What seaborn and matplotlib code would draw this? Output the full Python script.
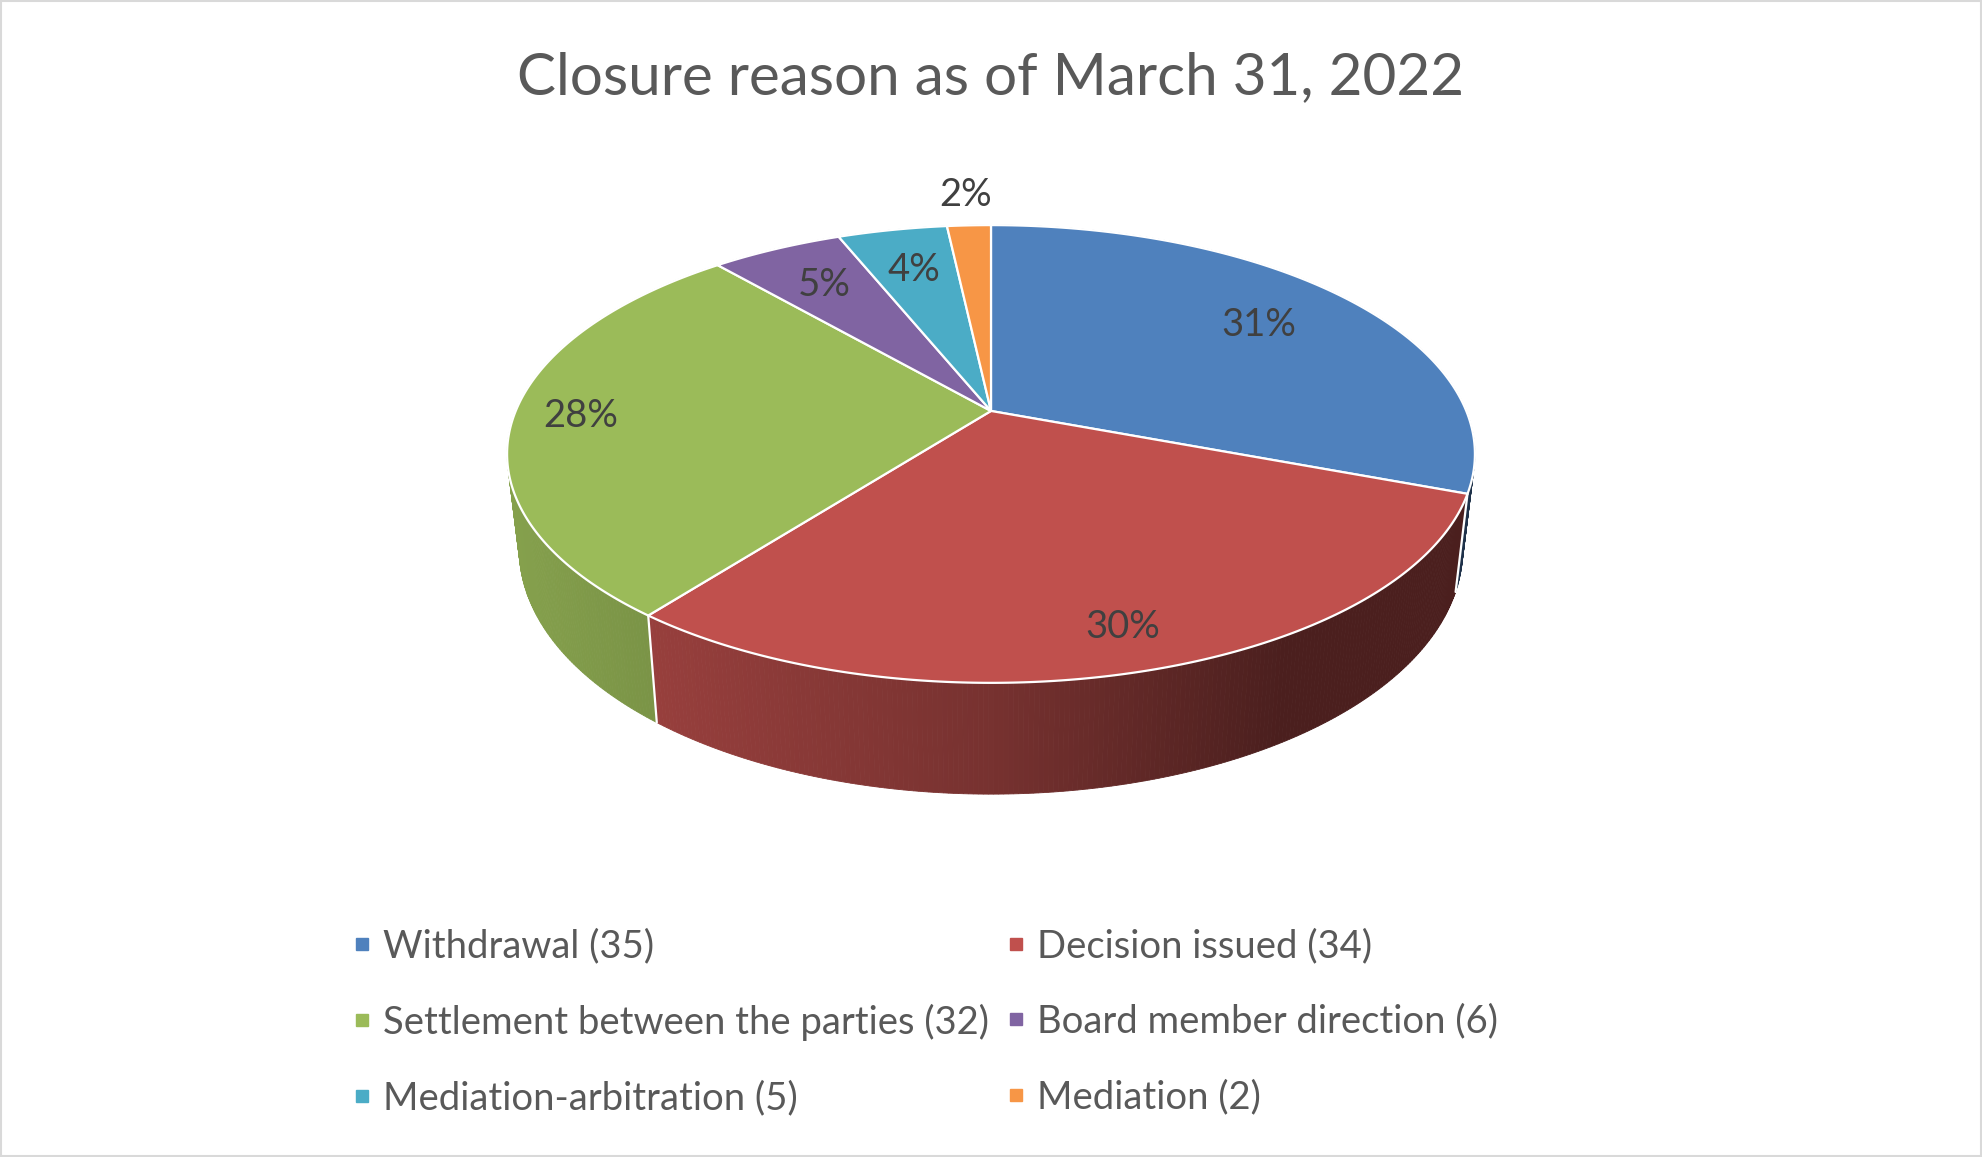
import numpy as np
import matplotlib
matplotlib.use("Agg")
import matplotlib.pyplot as plt
from matplotlib.patches import Polygon, Rectangle
from matplotlib.lines import Line2D
import seaborn as sns

# data
categories = ["Withdrawal", "Decision issued", "Settlement between the parties",
              "Board member direction", "Mediation-arbitration", "Mediation"]
counts = [35, 34, 32, 6, 5, 2]
pct_labels = ["31%", "30%", "28%", "5%", "4%", "2%"]
title = "Closure reason as of March 31, 2022"

# style
colors = ["#4f81bd", "#c0504d", "#9bbb59", "#8064a2", "#4bacc6", "#f79646"]
label_radius = [0.74, 0.86, 0.86, 0.75, 0.75, 1.2]

sns.set_theme(style="white")
plt.rcParams["font.family"] = ["Lato", "DejaVu Sans"]
palette = sns.color_palette(colors)

W, H = 1568, 915
fig = plt.figure(figsize=(19.82, 11.57), dpi=100)
ax = fig.add_axes([0, 0, 1, 1])
ax.set_xlim(0, W)
ax.set_ylim(H, 0)
ax.axis("off")

# projected pie geometry
cx, cy = 784, 325
A, B, k = 376, 174.6, 0.188
shrink = 0.975


def top_pt(theta, r=1.0):
    t = np.radians(theta)
    X, Y = r * np.sin(t), r * np.cos(t)
    w = 1 + k * Y
    return cx + A * X / w, cy - B * Y / w


def bottom_pt(theta):
    x, y = top_pt(theta)
    d = 72 + 16 * np.maximum(0, -np.cos(np.radians(theta)))
    return cx + shrink * (x - cx), y + d


def shade(x):
    s = (x - cx) / 383
    if s < 0:
        return 0.62 - 0.24 * s
    return max(0.39, 0.62 - 0.38 * s)


total = sum(counts)
edges = np.concatenate([[0], np.cumsum(counts)]) / total * 360

# side strips, painted back to front
strips = []
for i in range(len(counts)):
    a0, a1 = edges[i], edges[i + 1]
    n = max(2, int((a1 - a0) / 0.5))
    th = np.linspace(a0, a1, n + 1)
    for ta, tb in zip(th[:-1], th[1:]):
        xa, ya = top_pt(ta)
        xb, yb = top_pt(tb)
        xc, yc = bottom_pt(tb)
        xd, yd = bottom_pt(ta)
        depth = np.cos(np.radians((ta + tb) / 2))
        f = shade((xa + xb) / 2)
        col = tuple(min(1, c * f) for c in palette[i])
        strips.append((depth, [(xa, ya), (xb, yb), (xc, yc), (xd, yd)], col))
strips.sort(key=lambda s: -s[0])
for _, pts, col in strips:
    ax.add_patch(Polygon(pts, closed=True, facecolor=col, edgecolor=col, lw=0.6))

# white seams on the visible side
for e in edges:
    if 95 < e % 360 < 265:
        x0, y0 = top_pt(e)
        x1, y1 = bottom_pt(e)
        ax.plot([x0, x1], [y0, y1], color="white", lw=1.6, solid_capstyle="round")

# top face
for i in range(len(counts)):
    th = np.linspace(edges[i], edges[i + 1], 200)
    pts = [(cx, cy)] + [top_pt(t) for t in th]
    ax.add_patch(Polygon(pts, closed=True, facecolor=palette[i], edgecolor="white",
                         lw=1.6, joinstyle="round"))

# percentage labels
for i, lab in enumerate(pct_labels):
    mid = (edges[i] + edges[i + 1]) / 2
    x, y = top_pt(mid, label_radius[i])
    ax.text(x, y, lab, ha="center", va="center", fontsize=27.5, color="#404040")

ax.text(W / 2, 61, title, ha="center", va="center", fontsize=42, color="#595959")

# legend, row-major order in two columns
handles = [Line2D([], [], marker="s", linestyle="", markersize=8, color=palette[i])
           for i in range(len(categories))]
labels = [f"{c} ({n})" for c, n in zip(categories, counts)]
order = [0, 2, 4, 1, 3, 5]
leg = ax.legend([handles[j] for j in order], [labels[j] for j in order], ncol=2,
                loc="upper left", bbox_to_anchor=(264, 719), bbox_transform=ax.transData,
                frameon=False, fontsize=27.5, labelcolor="#595959", handlelength=0.5,
                handletextpad=0.3, columnspacing=0.45, labelspacing=1.03, borderpad=0)

ax.add_patch(Rectangle((1, 1), W - 2, H - 2, fill=False, edgecolor="#d9d9d9", lw=1.5))

fig.savefig("out.png", dpi=100)
